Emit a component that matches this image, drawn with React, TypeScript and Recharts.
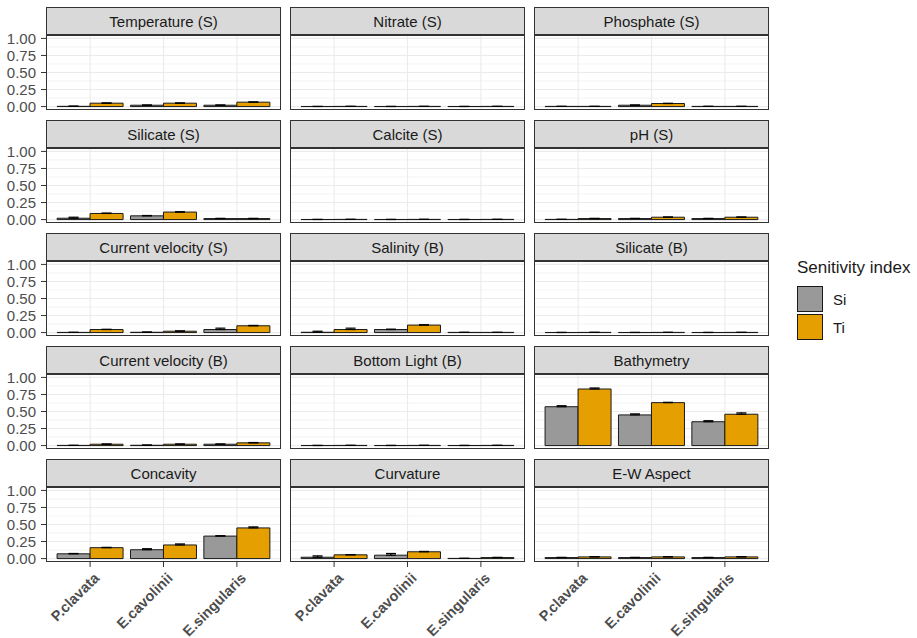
import React from 'react';
import { BarChart, Bar, XAxis, YAxis, ErrorBar, ReferenceLine } from 'recharts';

const species = ['P.clavata', 'E.cavolinii', 'E.singularis'];

const facetNames = [
  'Temperature (S)', 'Nitrate (S)', 'Phosphate (S)',
  'Silicate (S)', 'Calcite (S)', 'pH (S)',
  'Current velocity (S)', 'Salinity (B)', 'Silicate (B)',
  'Current velocity (B)', 'Bottom Light (B)', 'Bathymetry',
  'Concavity', 'Curvature', 'E-W Aspect',
];

// first-order index (Si), one value per species for every facet
const siValues = [
  [0.004, 0.02, 0.02],
  [0.002, 0.002, 0.002],
  [0.003, 0.02, 0.003],
  [0.02, 0.055, 0.015],
  [0.002, 0.002, 0.002],
  [0.003, 0.015, 0.015],
  [0.003, 0.005, 0.045],
  [0.005, 0.045, 0.003],
  [0.002, 0.002, 0.002],
  [0.003, 0.005, 0.02],
  [0.002, 0.002, 0.002],
  [0.57, 0.45, 0.35],
  [0.07, 0.13, 0.33],
  [0.02, 0.05, 0.003],
  [0.015, 0.015, 0.015],
];

// total-order index (Ti)
const tiValues = [
  [0.05, 0.05, 0.065],
  [0.003, 0.003, 0.003],
  [0.003, 0.045, 0.003],
  [0.09, 0.11, 0.015],
  [0.003, 0.003, 0.003],
  [0.015, 0.035, 0.035],
  [0.045, 0.02, 0.1],
  [0.045, 0.11, 0.003],
  [0.003, 0.003, 0.003],
  [0.02, 0.02, 0.04],
  [0.003, 0.003, 0.003],
  [0.83, 0.63, 0.46],
  [0.16, 0.2, 0.45],
  [0.055, 0.1, 0.015],
  [0.025, 0.025, 0.025],
];

// standard errors, only the upper whisker is shown
const siErrors = [
  [0.003, 0.003, 0.003],
  [0, 0, 0],
  [0, 0.003, 0],
  [0.015, 0.005, 0.003],
  [0, 0, 0],
  [0, 0.003, 0.003],
  [0, 0.003, 0.02],
  [0.015, 0.005, 0],
  [0, 0, 0],
  [0, 0.003, 0.003],
  [0, 0, 0],
  [0.015, 0.015, 0.015],
  [0.005, 0.015, 0.005],
  [0.02, 0.025, 0],
  [0.003, 0.003, 0.003],
];

const tiErrors = [
  [0.003, 0.003, 0.003],
  [0, 0, 0],
  [0, 0.003, 0],
  [0.005, 0.005, 0.003],
  [0, 0, 0],
  [0.003, 0.003, 0.003],
  [0.003, 0.005, 0.005],
  [0.02, 0.005, 0],
  [0, 0, 0],
  [0.003, 0.003, 0.005],
  [0, 0, 0],
  [0.015, 0.005, 0.02],
  [0.005, 0.015, 0.015],
  [0.003, 0.005, 0.003],
  [0.003, 0.003, 0.003],
];

const yTicks = [0, 0.25, 0.5, 0.75, 1];
const yMinor = [0.125, 0.375, 0.625, 0.875];

const SI_FILL = '#999999';
const TI_FILL = '#E69F00';

const COL_X = [46, 290, 534];
const ROW_Y = [7, 120, 233, 346, 459];
const PANEL_W = 235;
const PANEL_H = 75;
const STRIP_H = 28;
const Y_AXIS_W = 46;
const X_AXIS_H = 80;
const PAD = 10; // room above/below the panel so tick labels stay inside the svg

const FONT = '"Liberation Sans", Arial, sans-serif';

const SpeciesTick = ({ x, y, payload }: any) => (
  <g transform={`translate(${x + 10},${y + 10})`}>
    <text textAnchor="end" transform="rotate(-45)" fill="#4D4D4D" fontSize={14.5} fontWeight="bold">
      {payload.value}
    </text>
  </g>
);

const Facet = ({ index }: { index: number }) => {
  const row = Math.floor(index / 3);
  const col = index % 3;
  const left = COL_X[col];
  const top = ROW_Y[row];
  const showY = col === 0;
  const showX = row === ROW_Y.length - 1;
  const yw = showY ? Y_AXIS_W : 0;
  const xh = showX ? X_AXIS_H : PAD;

  const data = species.map((name, i) => ({
    name,
    si: siValues[index][i],
    ti: tiValues[index][i],
    siErr: [0, siErrors[index][i]],
    tiErr: [0, tiErrors[index][i]],
  }));

  return (
    <>
      <div
        style={{
          position: 'absolute', left, top, width: PANEL_W, height: STRIP_H,
          boxSizing: 'border-box', border: '1px solid #333333', background: '#D9D9D9',
          display: 'flex', alignItems: 'center', justifyContent: 'center',
          fontSize: 15, color: '#1A1A1A',
        }}
      >
        {facetNames[index]}
      </div>
      <div style={{ position: 'absolute', left: left - yw, top: top + STRIP_H - PAD }}>
        <BarChart
          width={PANEL_W + yw}
          height={PANEL_H + PAD + xh}
          data={data}
          margin={{ top: PAD, right: 0, bottom: showX ? 0 : PAD, left: 0 }}
          barCategoryGap="5%"
          barGap={0}
          style={{ overflow: 'visible' }}
        >
          <XAxis
            dataKey="name"
            hide={!showX}
            height={X_AXIS_H}
            padding={{ left: 7.4, right: 7.4 }}
            axisLine={false}
            tickSize={5}
            tickLine={{ stroke: '#333333' }}
            tick={<SpeciesTick />}
            interval={0}
          />
          <YAxis
            hide={!showY}
            width={Y_AXIS_W}
            type="number"
            domain={[-0.05, 1.05]}
            ticks={yTicks}
            interval={0}
            allowDataOverflow
            axisLine={false}
            tickSize={5}
            tickMargin={5}
            tickLine={{ stroke: '#333333' }}
            tick={{ fill: '#4D4D4D', fontSize: 15 }}
            tickFormatter={(v: number) => v.toFixed(2)}
          />
          {yMinor.map((v) => (
            <ReferenceLine key={`mn-${v}`} y={v} stroke="#EBEBEB" strokeWidth={0.6} zIndex={-100} />
          ))}
          {yTicks.map((v) => (
            <ReferenceLine key={`mj-${v}`} y={v} stroke="#EBEBEB" strokeWidth={1.1} zIndex={-100} />
          ))}
          {species.map((s) => (
            <ReferenceLine key={`vx-${s}`} x={s} stroke="#EBEBEB" strokeWidth={1.1} zIndex={-100} />
          ))}
          <Bar dataKey="si" fill={SI_FILL} stroke="#1A1A1A" strokeWidth={1} isAnimationActive={false}>
            <ErrorBar dataKey="siErr" width={5} stroke="#000000" strokeWidth={1.2} />
          </Bar>
          <Bar dataKey="ti" fill={TI_FILL} stroke="#1A1A1A" strokeWidth={1} isAnimationActive={false}>
            <ErrorBar dataKey="tiErr" width={5} stroke="#000000" strokeWidth={1.2} />
          </Bar>
        </BarChart>
      </div>
      <div
        style={{
          position: 'absolute', left, top: top + STRIP_H, width: PANEL_W, height: PANEL_H,
          boxSizing: 'border-box', border: '1px solid #333333', pointerEvents: 'none',
        }}
      />
    </>
  );
};

const legendItems = [
  { label: 'Si', fill: SI_FILL },
  { label: 'Ti', fill: TI_FILL },
];

export default function App() {
  return (
    <div
      style={{
        position: 'absolute', left: 0, top: 0, width: 917, height: 638,
        background: '#FFFFFF', fontFamily: FONT, overflow: 'hidden',
      }}
    >
      {facetNames.map((_, i) => (
        <Facet key={i} index={i} />
      ))}
      <div style={{ position: 'absolute', left: 797, top: 257 }}>
        <div style={{ fontSize: 17, color: '#1A1A1A', lineHeight: '22px' }}>Senitivity index</div>
        <div style={{ marginTop: 6 }}>
          {legendItems.map((it) => (
            <div key={it.label} style={{ display: 'flex', alignItems: 'center', height: 28 }}>
              <div
                style={{
                  width: 26, height: 26, boxSizing: 'border-box',
                  border: '1px solid #1A1A1A', background: it.fill,
                }}
              />
              <span style={{ marginLeft: 10, fontSize: 15, color: '#1A1A1A' }}>{it.label}</span>
            </div>
          ))}
        </div>
      </div>
    </div>
  );
}
